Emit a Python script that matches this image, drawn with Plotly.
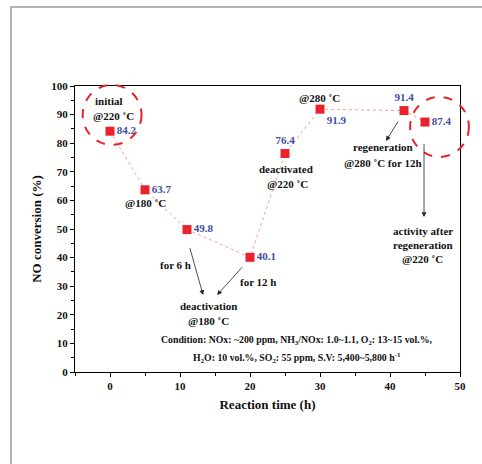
import plotly.graph_objects as go

# ---- data ----
time_h = [0, 5, 11, 20, 25, 30, 42, 45]
no_conv = [84.2, 63.7, 49.8, 40.1, 76.4, 91.9, 91.4, 87.4]
label_pos = ["middle right", "middle right", "middle right", "middle right",
             "top center", "bottom right", "top center", "middle right"]
x_ticks = [0, 10, 20, 30, 40, 50]
y_ticks = [0, 10, 20, 30, 40, 50, 60, 70, 80, 90, 100]

XR = [-5, 50]
YR = [0, 100]
W, H = 482, 464
ML, MR, MT, MB = 75, 22, 86, 92

FONT = "Liberation Serif, Times New Roman, serif"
BLUE = "#3F4FA3"
RED = "#E8232B"

fig = go.Figure()
fig.add_trace(go.Scatter(
    x=time_h, y=no_conv, mode="lines+markers+text",
    line=dict(color="#F4A0A0", width=1, dash="dot"),
    marker=dict(symbol="square", size=9, color=RED),
    text=["<b>%.1f</b>" % v for v in no_conv],
    textposition=label_pos,
    textfont=dict(family=FONT, size=11, color=BLUE),
    cliponaxis=False, showlegend=False,
))

def ann(x, y, t, size=11):
    fig.add_annotation(x=x, y=y, xref="x", yref="y", text="<b>%s</b>" % t,
                       showarrow=False, font=dict(family=FONT, size=size, color="#111"))

ann(-0.14, 94.8, "initial")
ann(0.57, 89.5, "@220 ˚C")
ann(5.0, 59.1, "@180 ˚C")
ann(25.1, 71.0, "deactivated")
ann(25.3, 65.7, "@220 ˚C")
ann(29.9, 95.8, "@280 ˚C")
ann(39.0, 78.7, "regeneration")
ann(39.0, 73.1, "@280 ˚C for 12h")
ann(44.7, 49.3, "activity after")
ann(44.7, 44.4, "regeneration")
ann(44.7, 39.5, "@220 ˚C")
ann(9.4, 37.4, "for 6 h")
ann(21.1, 31.5, "for 12 h")
ann(14.0, 23.1, "deactivation")
ann(14.0, 17.8, "@180 ˚C")
ann(26.7, 11.2, "Condition: NOx: ~200 ppm, NH<sub>3</sub>/NOx: 1.0~1.1, O<sub>2</sub>: 13~15 vol.%,", 9.8)
ann(26.7, 5.0, "H<sub>2</sub>O: 10 vol.%, SO<sub>2</sub>: 55 ppm, S.V: 5,400~5,800 h<sup>-1</sup>", 9.8)

def arrow(x0, y0, x1, y1):
    fig.add_annotation(x=x1, y=y1, ax=x0, ay=y0, xref="x", yref="y",
                       axref="x", ayref="y", text=" ", showarrow=True,
                       arrowhead=2, arrowsize=1.2, arrowwidth=0.8, arrowcolor="#222")

arrow(41.57, 89.2, 39.43, 80.8)
arrow(44.86, 83.2, 44.86, 54.2)
arrow(11.0, 46.9, 13.3, 26.9)
arrow(19.3, 37.8, 15.3, 26.9)

def px(x):
    return (x - XR[0]) / (XR[1] - XR[0])

def py(y):
    return (y - YR[0]) / (YR[1] - YR[0])

for cx, cy in [(0.3, 89.9), (47.07, 85.7)]:
    rx, ry = 4.2, 10.5
    fig.add_shape(type="circle", xref="paper", yref="paper",
                  x0=px(cx - rx), x1=px(cx + rx), y0=py(cy - ry), y1=py(cy + ry),
                  line=dict(color=RED, width=2, dash="dash"))

# outer grey frame
pw, ph = W - ML - MR, H - MT - MB
fig.add_shape(type="rect", xref="paper", yref="paper",
              x0=(11 - ML) / pw, x1=(W + 20 - ML) / pw,
              y0=-(H + 20 - MT - ph) / ph, y1=1 + (MT - 7) / ph,
              line=dict(color="#9a9a9a", width=1.5))

axis_common = dict(showline=True, linecolor="black", linewidth=1.2, mirror=True,
                   ticks="outside", ticklen=4, tickwidth=1, tickcolor="black",
                   showgrid=False, zeroline=False,
                   tickfont=dict(family=FONT, size=11, color="#111"))

fig.update_xaxes(range=XR, tickvals=x_ticks, ticktext=["<b>%d</b>" % v for v in x_ticks],
                 minor=dict(dtick=5, tick0=0, ticks="outside", ticklen=2.5, tickcolor="black"),
                 title=dict(text="<b>Reaction time (h)</b>", font=dict(family=FONT, size=13, color="#111"),
                            standoff=8),
                 **axis_common)
fig.update_yaxes(range=YR, tickvals=y_ticks, ticktext=["<b>%d</b>" % v for v in y_ticks],
                 minor=dict(dtick=5, tick0=0, ticks="outside", ticklen=2.5, tickcolor="black"),
                 title=dict(text="<b>NO conversion (%)</b>", font=dict(family=FONT, size=13, color="#111"),
                            standoff=6),
                 **axis_common)

fig.update_layout(width=W, height=H, margin=dict(l=ML, r=MR, t=MT, b=MB),
                  plot_bgcolor="white", paper_bgcolor="white")

fig.write_html("out.html")
